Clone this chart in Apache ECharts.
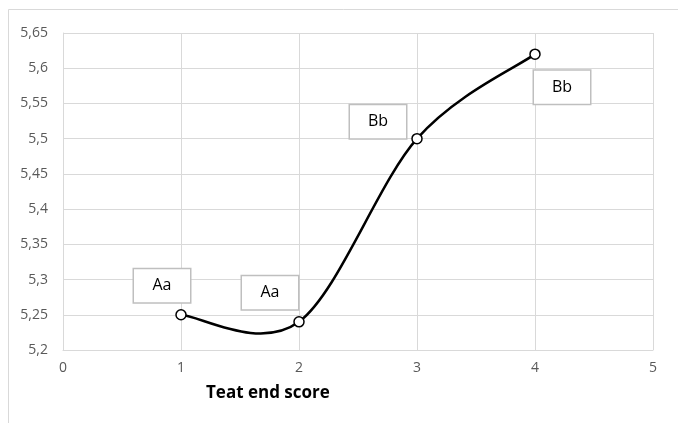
<!DOCTYPE html>
<html>
<head>
<meta charset="utf-8">
<script src="https://cdn.jsdelivr.net/npm/echarts@6/dist/echarts.min.js"></script>
<style>html,body{margin:0;padding:0;background:#fff;}#c{width:678px;height:423px;}</style>
</head>
<body>
<div id="c"></div>
<script>
var xValues = [1, 2, 3, 4];
var yValues = [5.25, 5.24, 5.5, 5.62];
var groupLabels = ['Aa', 'Aa', 'Bb', 'Bb'];
var xTicks = [0, 1, 2, 3, 4, 5];
var axisTitle = 'Teat end score';

var labelOffsets = [[-19, -29], [-29, -29], [-39, -17], [27, 33]];

var chart = echarts.init(document.getElementById('c'));
var points = xValues.map(function (x, i) { return [x, yValues[i]]; });
var data = points.map(function (p, i) {
  return { value: p, label: { offset: labelOffsets[i] } };
});
function fmt(v) {
  return parseFloat(v.toFixed(2)).toString().replace('.', ',');
}
// Excel-style smoothed curve: cubic Bezier with control points from neighbours (pixel space)
function renderCurve(params, api) {
  if (params.dataIndex !== 0) return null;
  var px = points.map(function (p) { return api.coord(p); });
  var n = px.length;
  var d = 'M' + px[0][0] + ' ' + px[0][1];
  for (var i = 0; i < n - 1; i++) {
    var p0 = px[Math.max(i - 1, 0)], p1 = px[i], p2 = px[i + 1], p3 = px[Math.min(i + 2, n - 1)];
    var c1 = [p1[0] + (p2[0] - p0[0]) / 6, p1[1] + (p2[1] - p0[1]) / 6];
    var c2 = [p2[0] - (p3[0] - p1[0]) / 6, p2[1] - (p3[1] - p1[1]) / 6];
    d += ' C' + c1[0] + ' ' + c1[1] + ' ' + c2[0] + ' ' + c2[1] + ' ' + p2[0] + ' ' + p2[1];
  }
  return {
    type: 'path',
    shape: { pathData: d },
    style: { fill: null, stroke: '#000', lineWidth: 2.5 }
  };
}
chart.setOption({
  animation: false,
  backgroundColor: '#fff',
  grid: { left: 63, right: 25, top: 33, bottom: 73, containLabel: false },
  graphic: [{
    type: 'rect', left: 6, top: 7, shape: { width: 720, height: 460 },
    style: { fill: 'none', stroke: '#d9d9d9', lineWidth: 1 }, silent: true, z: -1
  }],
  title: {
    text: axisTitle, left: 201, top: 380,
    textStyle: { fontFamily: 'Open Sans', fontWeight: 'bold', fontSize: 17, color: '#000' }
  },
  xAxis: {
    type: 'value', min: xTicks[0], max: xTicks[xTicks.length - 1], interval: 1,
    axisLine: { show: true, lineStyle: { color: '#d9d9d9' } },
    axisTick: { show: false },
    splitLine: { show: true, lineStyle: { color: '#d9d9d9' } },
    axisLabel: { color: '#595959', fontSize: 14, fontFamily: 'Open Sans', margin: 11 }
  },
  yAxis: {
    type: 'value', min: 5.2, max: 5.65, interval: 0.05,
    axisLine: { show: true, lineStyle: { color: '#d9d9d9' } },
    axisTick: { show: false },
    splitLine: { show: true, lineStyle: { color: '#d9d9d9' } },
    axisLabel: { color: '#595959', fontSize: 14, fontFamily: 'Open Sans', margin: 15, formatter: fmt }
  },
  series: [{
    type: 'custom',
    data: points,
    renderItem: renderCurve,
    clip: false,
    z: 2
  }, {
    type: 'line',
    data: data,
    lineStyle: { width: 0, opacity: 0 },
    symbol: 'circle',
    symbolSize: 10,
    itemStyle: { color: '#fff', borderColor: '#000', borderWidth: 1.5 },
    label: {
      show: true,
      position: 'inside',
      formatter: function (p) { return groupLabels[p.dataIndex]; },
      width: 56, height: 33, align: 'center', verticalAlign: 'middle',
      lineHeight: 33,
      backgroundColor: '#fff',
      borderColor: '#bfbfbf', borderWidth: 1.5,
      color: '#000', fontSize: 16, fontFamily: 'Open Sans'
    },
    z: 3
  }]
});
</script>
</body>
</html>
